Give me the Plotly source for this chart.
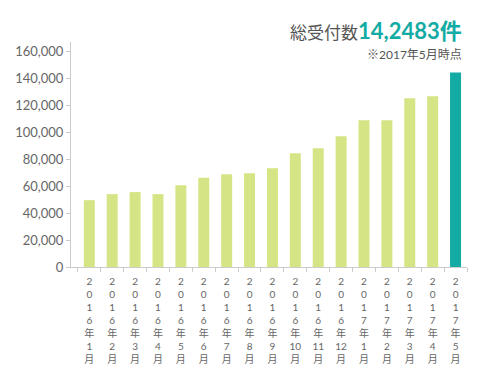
import plotly.graph_objects as go

months = ["2016年1月", "2016年2月", "2016年3月", "2016年4月", "2016年5月", "2016年6月",
          "2016年7月", "2016年8月", "2016年9月", "2016年10月", "2016年11月", "2016年12月",
          "2017年1月", "2017年2月", "2017年3月", "2017年4月", "2017年5月"]
counts = [49600, 54100, 55600, 54100, 60700, 66200, 68900, 69600, 73300,
          84400, 88100, 97000, 108900, 108900, 125200, 126700, 144400]
y_ticks = [0, 20000, 40000, 60000, 80000, 100000, 120000, 140000, 160000]
total_label = "14,2483件"
title_label = "総受付数"
note_label = "※2017年5月時点"


def vertical(label):
    # split into stacked characters, keeping multi-digit month numbers together
    y = label[:4]
    rest = label[5:-1]
    parts = list(y) + ["年", rest, "月"]
    return "<br>".join(parts)


tick_text = [vertical(m) for m in months]
GREEN = "#d5e585"
TEAL = "#13aba3"
colors = [GREEN] * (len(months) - 1) + [TEAL]

fig = go.Figure(go.Bar(x=months, y=counts, marker=dict(color=colors, line=dict(width=0)),
                       width=0.48))

font_fam = "Lato, 'Noto Sans CJK JP', sans-serif"
fig.update_layout(
    width=480, height=380,
    margin=dict(l=71, r=13, t=42, b=113, pad=0),
    paper_bgcolor="white", plot_bgcolor="white",
    font=dict(family=font_fam, color="#666"),
    showlegend=False,
    bargap=0.52,
)
fig.update_xaxes(
    type="category", automargin=False,
    range=[-0.8, 16.5],
    tickmode="array", tickvals=months, ticktext=tick_text,
    tickangle=0, ticklabelstandoff=5,
    tickfont=dict(size=10, color="#666", family=font_fam),
    showline=True, linecolor="#cccccc", linewidth=1,
    ticks="outside", ticklen=4, tickcolor="#cccccc", tickson="boundaries",
    showgrid=False, zeroline=False,
)
fig.update_yaxes(
    range=[0, 167000], automargin=False,
    tickmode="array", tickvals=y_ticks,
    ticktext=[f"{v:,}" for v in y_ticks],
    tickfont=dict(size=13, color="#666", family=font_fam),
    showline=True, linecolor="#cccccc", linewidth=1,
    ticks="outside", ticklen=4, tickcolor="#cccccc",
    showgrid=False, zeroline=False,
)
fig.add_annotation(
    xref="paper", yref="paper", x=1.0, y=1.0, xanchor="right", yanchor="bottom",
    yshift=-4, xshift=-3,
    text=(f"<span style='color:#555555;font-size:17px'>{title_label}</span>"
          f"<b style='color:{TEAL};font-size:22px'>{total_label}</b>"),
    showarrow=False, font=dict(family=font_fam),
)
fig.add_annotation(
    xref="paper", yref="paper", x=1.0, y=1.0, xanchor="right", yanchor="top",
    yshift=-3, xshift=-3,
    text=note_label, showarrow=False,
    font=dict(family=font_fam, size=12, color="#555555"),
)

fig.write_html("out.html", config={"displayModeBar": False},
               post_script="document.body.style.margin='0';")
